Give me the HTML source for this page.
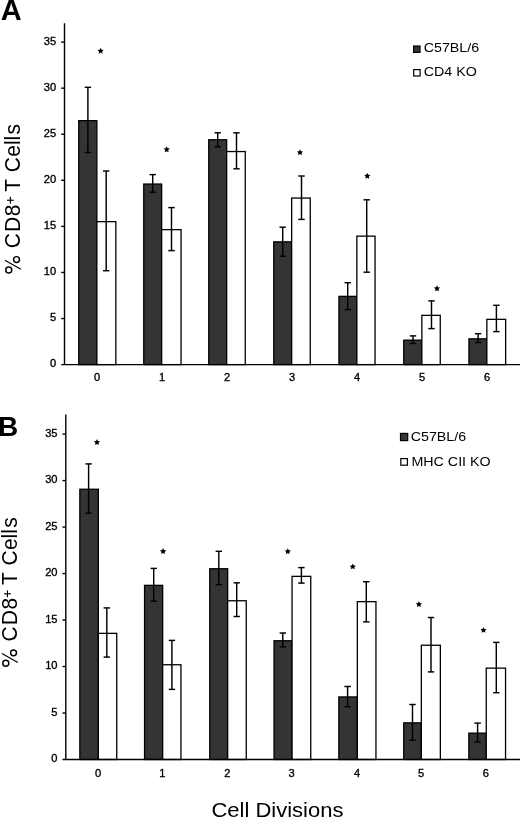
<!DOCTYPE html>
<html><head><meta charset="utf-8"><style>
html,body{margin:0;padding:0;background:#fff;}
body{width:520px;height:817px;overflow:hidden;}
svg{display:block;filter:grayscale(1);}
text{font-family:"Liberation Sans",sans-serif;fill:#000;}
.tk{font-size:10.1px;stroke:#000;stroke-width:0.32px;}
.lg{font-size:12.3px;}
.yl{font-size:21px;}
.let{font-weight:bold;}
.xt{font-size:21px;}
</style></head><body>
<svg width="520" height="817" viewBox="0 0 520 817">
<rect width="520" height="817" fill="#fff"/>
<rect x="78.75" y="120.65" width="18.10" height="243.95" fill="#343434" stroke="#000" stroke-width="1.3"/>
<rect x="96.85" y="221.65" width="19.00" height="142.95" fill="#fff" stroke="#000" stroke-width="1.3"/>
<rect x="143.75" y="184.05" width="17.90" height="180.55" fill="#343434" stroke="#000" stroke-width="1.3"/>
<rect x="161.65" y="229.65" width="19.40" height="134.95" fill="#fff" stroke="#000" stroke-width="1.3"/>
<rect x="208.75" y="139.75" width="17.90" height="224.85" fill="#343434" stroke="#000" stroke-width="1.3"/>
<rect x="226.65" y="151.55" width="18.60" height="213.05" fill="#fff" stroke="#000" stroke-width="1.3"/>
<rect x="273.75" y="241.85" width="17.90" height="122.75" fill="#343434" stroke="#000" stroke-width="1.3"/>
<rect x="291.65" y="198.05" width="18.60" height="166.55" fill="#fff" stroke="#000" stroke-width="1.3"/>
<rect x="338.95" y="296.35" width="17.90" height="68.25" fill="#343434" stroke="#000" stroke-width="1.3"/>
<rect x="356.85" y="236.15" width="18.20" height="128.45" fill="#fff" stroke="#000" stroke-width="1.3"/>
<rect x="403.75" y="340.15" width="18.10" height="24.45" fill="#343434" stroke="#000" stroke-width="1.3"/>
<rect x="421.85" y="315.35" width="18.40" height="49.25" fill="#fff" stroke="#000" stroke-width="1.3"/>
<rect x="468.95" y="338.85" width="17.90" height="25.75" fill="#343434" stroke="#000" stroke-width="1.3"/>
<rect x="486.85" y="319.35" width="18.80" height="45.25" fill="#fff" stroke="#000" stroke-width="1.3"/>
<g stroke="#000" stroke-width="1.45" fill="none"><line x1="87.90" y1="87.30" x2="87.90" y2="152.50"/><line x1="84.70" y1="87.30" x2="91.10" y2="87.30"/><line x1="84.70" y1="152.50" x2="91.10" y2="152.50"/><line x1="106.20" y1="171.00" x2="106.20" y2="270.70"/><line x1="103.00" y1="171.00" x2="109.40" y2="171.00"/><line x1="103.00" y1="270.70" x2="109.40" y2="270.70"/><line x1="152.70" y1="174.60" x2="152.70" y2="192.20"/><line x1="149.50" y1="174.60" x2="155.90" y2="174.60"/><line x1="149.50" y1="192.20" x2="155.90" y2="192.20"/><line x1="171.50" y1="207.60" x2="171.50" y2="250.60"/><line x1="168.30" y1="207.60" x2="174.70" y2="207.60"/><line x1="168.30" y1="250.60" x2="174.70" y2="250.60"/><line x1="217.70" y1="132.80" x2="217.70" y2="146.80"/><line x1="214.50" y1="132.80" x2="220.90" y2="132.80"/><line x1="214.50" y1="146.80" x2="220.90" y2="146.80"/><line x1="236.50" y1="132.80" x2="236.50" y2="168.80"/><line x1="233.30" y1="132.80" x2="239.70" y2="132.80"/><line x1="233.30" y1="168.80" x2="239.70" y2="168.80"/><line x1="282.70" y1="227.20" x2="282.70" y2="256.20"/><line x1="279.50" y1="227.20" x2="285.90" y2="227.20"/><line x1="279.50" y1="256.20" x2="285.90" y2="256.20"/><line x1="301.50" y1="176.00" x2="301.50" y2="219.40"/><line x1="298.30" y1="176.00" x2="304.70" y2="176.00"/><line x1="298.30" y1="219.40" x2="304.70" y2="219.40"/><line x1="347.70" y1="282.70" x2="347.70" y2="309.60"/><line x1="344.50" y1="282.70" x2="350.90" y2="282.70"/><line x1="344.50" y1="309.60" x2="350.90" y2="309.60"/><line x1="366.70" y1="199.80" x2="366.70" y2="272.20"/><line x1="363.50" y1="199.80" x2="369.90" y2="199.80"/><line x1="363.50" y1="272.20" x2="369.90" y2="272.20"/><line x1="413.00" y1="335.90" x2="413.00" y2="343.50"/><line x1="409.80" y1="335.90" x2="416.20" y2="335.90"/><line x1="409.80" y1="343.50" x2="416.20" y2="343.50"/><line x1="431.50" y1="300.90" x2="431.50" y2="328.60"/><line x1="428.30" y1="300.90" x2="434.70" y2="300.90"/><line x1="428.30" y1="328.60" x2="434.70" y2="328.60"/><line x1="478.10" y1="333.70" x2="478.10" y2="342.50"/><line x1="474.90" y1="333.70" x2="481.30" y2="333.70"/><line x1="474.90" y1="342.50" x2="481.30" y2="342.50"/><line x1="496.40" y1="305.30" x2="496.40" y2="331.60"/><line x1="493.20" y1="305.30" x2="499.60" y2="305.30"/><line x1="493.20" y1="331.60" x2="499.60" y2="331.60"/></g>
<g stroke="#000" stroke-width="1.4" fill="none">
<line x1="64.5" y1="23.3" x2="64.5" y2="364.6"/>
<line x1="61.2" y1="364.6" x2="520" y2="364.6"/>
<line x1="61.2" y1="318.53" x2="64.5" y2="318.53"/>
<line x1="61.2" y1="272.46" x2="64.5" y2="272.46"/>
<line x1="61.2" y1="226.39" x2="64.5" y2="226.39"/>
<line x1="61.2" y1="180.31" x2="64.5" y2="180.31"/>
<line x1="61.2" y1="134.24" x2="64.5" y2="134.24"/>
<line x1="61.2" y1="88.17" x2="64.5" y2="88.17"/>
<line x1="61.2" y1="42.10" x2="64.5" y2="42.10"/>
</g>
<text transform="translate(56.20,367.35) scale(1.1,1)" class="tk" text-anchor="end">0</text>
<text transform="translate(56.20,321.28) scale(1.1,1)" class="tk" text-anchor="end">5</text>
<text transform="translate(56.20,275.21) scale(1.1,1)" class="tk" text-anchor="end">10</text>
<text transform="translate(56.20,229.14) scale(1.1,1)" class="tk" text-anchor="end">15</text>
<text transform="translate(56.20,183.06) scale(1.1,1)" class="tk" text-anchor="end">20</text>
<text transform="translate(56.20,136.99) scale(1.1,1)" class="tk" text-anchor="end">25</text>
<text transform="translate(56.20,90.92) scale(1.1,1)" class="tk" text-anchor="end">30</text>
<text transform="translate(56.20,44.85) scale(1.1,1)" class="tk" text-anchor="end">35</text>
<text transform="translate(97.20,381.20) scale(1.1,1)" class="tk" text-anchor="middle">0</text>
<text transform="translate(162.00,381.20) scale(1.1,1)" class="tk" text-anchor="middle">1</text>
<text transform="translate(227.00,381.20) scale(1.1,1)" class="tk" text-anchor="middle">2</text>
<text transform="translate(292.00,381.20) scale(1.1,1)" class="tk" text-anchor="middle">3</text>
<text transform="translate(357.20,381.20) scale(1.1,1)" class="tk" text-anchor="middle">4</text>
<text transform="translate(422.20,381.20) scale(1.1,1)" class="tk" text-anchor="middle">5</text>
<text transform="translate(487.20,381.20) scale(1.1,1)" class="tk" text-anchor="middle">6</text>
<polygon points="100.60,47.70 101.54,49.71 103.74,49.98 102.12,51.49 102.54,53.67 100.60,52.60 98.66,53.67 99.08,51.49 97.46,49.98 99.66,49.71" fill="#000"/>
<polygon points="166.70,146.30 167.64,148.31 169.84,148.58 168.22,150.09 168.64,152.27 166.70,151.20 164.76,152.27 165.18,150.09 163.56,148.58 165.76,148.31" fill="#000"/>
<polygon points="300.00,149.20 300.94,151.21 303.14,151.48 301.52,152.99 301.94,155.17 300.00,154.10 298.06,155.17 298.48,152.99 296.86,151.48 299.06,151.21" fill="#000"/>
<polygon points="367.30,172.80 368.24,174.81 370.44,175.08 368.82,176.59 369.24,178.77 367.30,177.70 365.36,178.77 365.78,176.59 364.16,175.08 366.36,174.81" fill="#000"/>
<polygon points="437.00,285.30 437.94,287.31 440.14,287.58 438.52,289.09 438.94,291.27 437.00,290.20 435.06,291.27 435.48,289.09 433.86,287.58 436.06,287.31" fill="#000"/>
<g transform="translate(19.8,0) rotate(-90) scale(1,1.05)">
<text x="-240.70" y="0" class="yl" text-anchor="middle">C</text>
<text x="-224.40" y="0" class="yl" text-anchor="middle">D</text>
<text x="-210.40" y="0" class="yl" text-anchor="middle">8</text>
<text x="-185.40" y="0" class="yl" text-anchor="middle">T</text>
<text x="-164.75" y="0" class="yl" text-anchor="middle">C</text>
<text x="-150.90" y="0" class="yl" text-anchor="middle">e</text>
<text x="-142.75" y="0" class="yl" text-anchor="middle">l</text>
<text x="-138.15" y="0" class="yl" text-anchor="middle">l</text>
<text x="-129.30" y="0" class="yl" text-anchor="middle">s</text>
</g>
<g stroke="#000" fill="none" stroke-width="1.45"><circle cx="16.53" cy="259.56" r="2.95"/><circle cx="8.77" cy="269.90" r="3.0"/><line x1="4.90" y1="260.30" x2="20.90" y2="269.20" stroke-width="1.2"/></g>
<g stroke="#000" stroke-width="1.15"><line x1="6.95" y1="200.25" x2="13.75" y2="200.25"/><line x1="10.35" y1="196.85" x2="10.35" y2="203.65"/></g>
<rect x="413.6" y="46.0" width="6.3999999999999995" height="6.3999999999999995" fill="#343434" stroke="#000" stroke-width="1.2"/>
<text transform="translate(423.70,51.80) scale(1.16,1)" class="lg" text-anchor="start">C57BL/6</text>
<rect x="413.70000000000005" y="69.6" width="6.3999999999999995" height="6.3999999999999995" fill="#fff" stroke="#000" stroke-width="1.2"/>
<text transform="translate(423.70,75.90) scale(1.16,1)" class="lg" text-anchor="start">CD4 KO</text>
<text x="0.7" y="19.9" class="let" style="font-size:29px">A</text>
<rect x="79.85" y="489.25" width="18.50" height="270.25" fill="#343434" stroke="#000" stroke-width="1.3"/>
<rect x="98.35" y="633.35" width="18.40" height="126.15" fill="#fff" stroke="#000" stroke-width="1.3"/>
<rect x="144.55" y="585.35" width="18.10" height="174.15" fill="#343434" stroke="#000" stroke-width="1.3"/>
<rect x="162.65" y="664.75" width="18.30" height="94.75" fill="#fff" stroke="#000" stroke-width="1.3"/>
<rect x="209.75" y="568.75" width="17.90" height="190.75" fill="#343434" stroke="#000" stroke-width="1.3"/>
<rect x="227.65" y="600.75" width="18.60" height="158.75" fill="#fff" stroke="#000" stroke-width="1.3"/>
<rect x="274.05" y="640.75" width="18.00" height="118.75" fill="#343434" stroke="#000" stroke-width="1.3"/>
<rect x="292.05" y="576.35" width="18.70" height="183.15" fill="#fff" stroke="#000" stroke-width="1.3"/>
<rect x="338.85" y="696.95" width="18.50" height="62.55" fill="#343434" stroke="#000" stroke-width="1.3"/>
<rect x="357.35" y="601.65" width="18.60" height="157.85" fill="#fff" stroke="#000" stroke-width="1.3"/>
<rect x="403.75" y="722.85" width="17.60" height="36.65" fill="#343434" stroke="#000" stroke-width="1.3"/>
<rect x="421.35" y="645.25" width="19.00" height="114.25" fill="#fff" stroke="#000" stroke-width="1.3"/>
<rect x="468.85" y="733.15" width="17.40" height="26.35" fill="#343434" stroke="#000" stroke-width="1.3"/>
<rect x="486.25" y="668.15" width="19.30" height="91.35" fill="#fff" stroke="#000" stroke-width="1.3"/>
<g stroke="#000" stroke-width="1.45" fill="none"><line x1="88.60" y1="463.90" x2="88.60" y2="513.20"/><line x1="85.40" y1="463.90" x2="91.80" y2="463.90"/><line x1="85.40" y1="513.20" x2="91.80" y2="513.20"/><line x1="106.80" y1="607.90" x2="106.80" y2="657.10"/><line x1="103.60" y1="607.90" x2="110.00" y2="607.90"/><line x1="103.60" y1="657.10" x2="110.00" y2="657.10"/><line x1="153.70" y1="568.40" x2="153.70" y2="601.20"/><line x1="150.50" y1="568.40" x2="156.90" y2="568.40"/><line x1="150.50" y1="601.20" x2="156.90" y2="601.20"/><line x1="171.90" y1="640.40" x2="171.90" y2="689.40"/><line x1="168.70" y1="640.40" x2="175.10" y2="640.40"/><line x1="168.70" y1="689.40" x2="175.10" y2="689.40"/><line x1="218.80" y1="551.30" x2="218.80" y2="584.60"/><line x1="215.60" y1="551.30" x2="222.00" y2="551.30"/><line x1="215.60" y1="584.60" x2="222.00" y2="584.60"/><line x1="236.70" y1="582.80" x2="236.70" y2="616.50"/><line x1="233.50" y1="582.80" x2="239.90" y2="582.80"/><line x1="233.50" y1="616.50" x2="239.90" y2="616.50"/><line x1="282.80" y1="633.00" x2="282.80" y2="646.90"/><line x1="279.60" y1="633.00" x2="286.00" y2="633.00"/><line x1="279.60" y1="646.90" x2="286.00" y2="646.90"/><line x1="301.40" y1="567.60" x2="301.40" y2="583.10"/><line x1="298.20" y1="567.60" x2="304.60" y2="567.60"/><line x1="298.20" y1="583.10" x2="304.60" y2="583.10"/><line x1="347.60" y1="686.50" x2="347.60" y2="706.70"/><line x1="344.40" y1="686.50" x2="350.80" y2="686.50"/><line x1="344.40" y1="706.70" x2="350.80" y2="706.70"/><line x1="366.30" y1="581.70" x2="366.30" y2="621.90"/><line x1="363.10" y1="581.70" x2="369.50" y2="581.70"/><line x1="363.10" y1="621.90" x2="369.50" y2="621.90"/><line x1="412.50" y1="704.50" x2="412.50" y2="740.20"/><line x1="409.30" y1="704.50" x2="415.70" y2="704.50"/><line x1="409.30" y1="740.20" x2="415.70" y2="740.20"/><line x1="431.00" y1="617.50" x2="431.00" y2="671.90"/><line x1="427.80" y1="617.50" x2="434.20" y2="617.50"/><line x1="427.80" y1="671.90" x2="434.20" y2="671.90"/><line x1="477.60" y1="723.10" x2="477.60" y2="742.00"/><line x1="474.40" y1="723.10" x2="480.80" y2="723.10"/><line x1="474.40" y1="742.00" x2="480.80" y2="742.00"/><line x1="496.30" y1="642.40" x2="496.30" y2="692.70"/><line x1="493.10" y1="642.40" x2="499.50" y2="642.40"/><line x1="493.10" y1="692.70" x2="499.50" y2="692.70"/></g>
<g stroke="#000" stroke-width="1.4" fill="none">
<line x1="65.8" y1="414.6" x2="65.8" y2="759.5"/>
<line x1="62.5" y1="759.5" x2="520" y2="759.5"/>
<line x1="62.5" y1="713.01" x2="65.8" y2="713.01"/>
<line x1="62.5" y1="666.53" x2="65.8" y2="666.53"/>
<line x1="62.5" y1="620.04" x2="65.8" y2="620.04"/>
<line x1="62.5" y1="573.56" x2="65.8" y2="573.56"/>
<line x1="62.5" y1="527.07" x2="65.8" y2="527.07"/>
<line x1="62.5" y1="480.59" x2="65.8" y2="480.59"/>
<line x1="62.5" y1="434.10" x2="65.8" y2="434.10"/>
</g>
<text transform="translate(57.50,762.25) scale(1.1,1)" class="tk" text-anchor="end">0</text>
<text transform="translate(57.50,715.76) scale(1.1,1)" class="tk" text-anchor="end">5</text>
<text transform="translate(57.50,669.28) scale(1.1,1)" class="tk" text-anchor="end">10</text>
<text transform="translate(57.50,622.79) scale(1.1,1)" class="tk" text-anchor="end">15</text>
<text transform="translate(57.50,576.31) scale(1.1,1)" class="tk" text-anchor="end">20</text>
<text transform="translate(57.50,529.82) scale(1.1,1)" class="tk" text-anchor="end">25</text>
<text transform="translate(57.50,483.34) scale(1.1,1)" class="tk" text-anchor="end">30</text>
<text transform="translate(57.50,436.85) scale(1.1,1)" class="tk" text-anchor="end">35</text>
<text transform="translate(98.00,777.00) scale(1.1,1)" class="tk" text-anchor="middle">0</text>
<text transform="translate(162.30,777.00) scale(1.1,1)" class="tk" text-anchor="middle">1</text>
<text transform="translate(227.30,777.00) scale(1.1,1)" class="tk" text-anchor="middle">2</text>
<text transform="translate(291.70,777.00) scale(1.1,1)" class="tk" text-anchor="middle">3</text>
<text transform="translate(357.00,777.00) scale(1.1,1)" class="tk" text-anchor="middle">4</text>
<text transform="translate(421.00,777.00) scale(1.1,1)" class="tk" text-anchor="middle">5</text>
<text transform="translate(485.90,777.00) scale(1.1,1)" class="tk" text-anchor="middle">6</text>
<polygon points="97.00,439.00 97.94,441.01 100.14,441.28 98.52,442.79 98.94,444.97 97.00,443.90 95.06,444.97 95.48,442.79 93.86,441.28 96.06,441.01" fill="#000"/>
<polygon points="163.10,548.10 164.04,550.11 166.24,550.38 164.62,551.89 165.04,554.07 163.10,553.00 161.16,554.07 161.58,551.89 159.96,550.38 162.16,550.11" fill="#000"/>
<polygon points="287.80,548.20 288.74,550.21 290.94,550.48 289.32,551.99 289.74,554.17 287.80,553.10 285.86,554.17 286.28,551.99 284.66,550.48 286.86,550.21" fill="#000"/>
<polygon points="352.80,563.40 353.74,565.41 355.94,565.68 354.32,567.19 354.74,569.37 352.80,568.30 350.86,569.37 351.28,567.19 349.66,565.68 351.86,565.41" fill="#000"/>
<polygon points="418.90,601.00 419.84,603.01 422.04,603.28 420.42,604.79 420.84,606.97 418.90,605.90 416.96,606.97 417.38,604.79 415.76,603.28 417.96,603.01" fill="#000"/>
<polygon points="483.50,626.90 484.44,628.91 486.64,629.18 485.02,630.69 485.44,632.87 483.50,631.80 481.56,632.87 481.98,630.69 480.36,629.18 482.56,628.91" fill="#000"/>
<g transform="translate(16.8,0) rotate(-90) scale(1,1.05)">
<text x="-634.00" y="0" class="yl" text-anchor="middle">C</text>
<text x="-617.70" y="0" class="yl" text-anchor="middle">D</text>
<text x="-603.70" y="0" class="yl" text-anchor="middle">8</text>
<text x="-578.70" y="0" class="yl" text-anchor="middle">T</text>
<text x="-558.05" y="0" class="yl" text-anchor="middle">C</text>
<text x="-544.20" y="0" class="yl" text-anchor="middle">e</text>
<text x="-536.05" y="0" class="yl" text-anchor="middle">l</text>
<text x="-531.45" y="0" class="yl" text-anchor="middle">l</text>
<text x="-522.60" y="0" class="yl" text-anchor="middle">s</text>
</g>
<g stroke="#000" fill="none" stroke-width="1.45"><circle cx="13.53" cy="652.86" r="2.95"/><circle cx="5.77" cy="663.20" r="3.0"/><line x1="1.90" y1="653.60" x2="17.90" y2="662.50" stroke-width="1.2"/></g>
<g stroke="#000" stroke-width="1.15"><line x1="4.05" y1="593.80" x2="10.85" y2="593.80"/><line x1="7.45" y1="590.40" x2="7.45" y2="597.20"/></g>
<rect x="400.5" y="433.40000000000003" width="7.2" height="7.2" fill="#343434" stroke="#000" stroke-width="1.2"/>
<text transform="translate(410.70,440.60) scale(1.16,1)" class="lg" text-anchor="start">C57BL/6</text>
<rect x="400.8" y="458.6" width="6.6" height="6.6" fill="#fff" stroke="#000" stroke-width="1.2"/>
<text transform="translate(411.40,465.60) scale(1.16,1)" class="lg" text-anchor="start">MHC CII KO</text>
<text x="-1.9" y="436.0" class="let" style="font-size:28px">B</text>
<text transform="translate(211.40,816.60) scale(1.048,1)" class="xt" text-anchor="start">Cell Divisions</text>
</svg>
</body></html>
